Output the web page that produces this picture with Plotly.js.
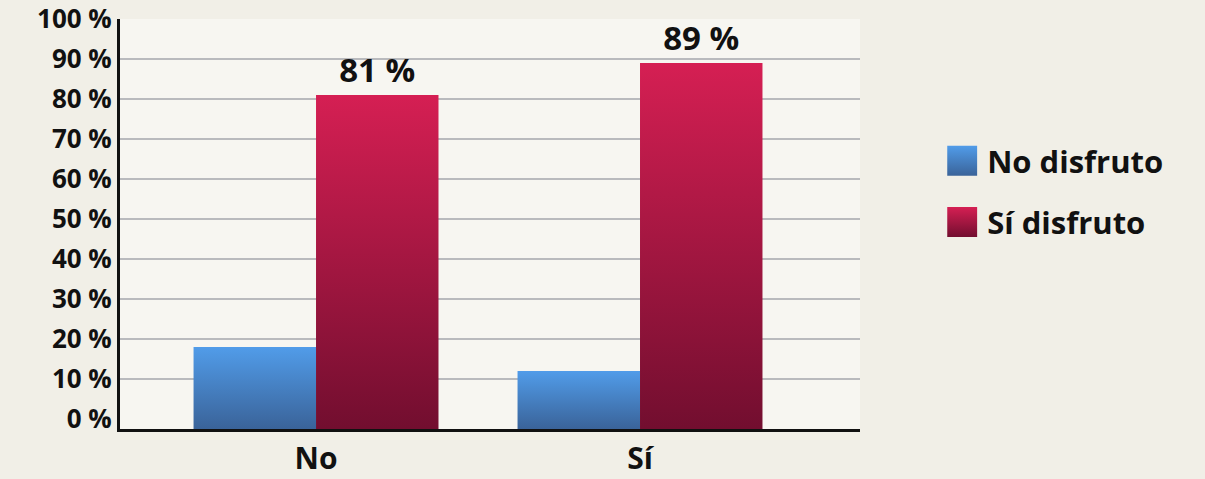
<!DOCTYPE html>
<html>
<head>
<meta charset="utf-8">
<script src="https://cdn.plot.ly/plotly-3.0.1.min.js"></script>
<style>
  html, body { margin: 0; padding: 0; background: #f1efe7; }
  #chart { width: 1205px; height: 479px; }
</style>
</head>
<body>
<div id="chart"></div>
<script>
// Answer categories on the x axis
const categories = ['No', 'Sí'];
// Series names
const seriesNames = ['No disfruto', 'Sí disfruto'];
// Percentages per series
const noDisfruto = [18, 12];
const siDisfruto = [81, 89];
// Y axis ticks
const tickValues = [0, 10, 20, 30, 40, 50, 60, 70, 80, 90, 100];

// The value axis starts a little below zero so the bars sit on the axis line
const AXIS_FLOOR = -2.5;
const FONT = 'Open Sans, Noto Sans, sans-serif';

const gradients = {
  blue: ['#519ce9', '#3a6399'],
  red: ['#d51f53', '#720e2f']
};

const traces = [
  {
    type: 'bar',
    name: seriesNames[0],
    x: categories,
    y: noDisfruto.map(v => v - AXIS_FLOOR),
    base: AXIS_FLOOR,
    marker: { color: gradients.blue[0], line: { width: 0 } },
    textposition: 'none',
    legendgroup: 'a',
    hoverinfo: 'skip'
  },
  {
    type: 'bar',
    name: seriesNames[1],
    x: categories,
    y: siDisfruto.map(v => v - AXIS_FLOOR),
    base: AXIS_FLOOR,
    text: siDisfruto.map(v => v + ' %'),
    textposition: 'outside',
    constraintext: 'none',
    cliponaxis: false,
    textfont: { family: FONT, size: 33, color: '#111', weight: 700 },
    marker: { color: gradients.red[0], line: { width: 0 } },
    legendgroup: 'b',
    hoverinfo: 'skip'
  }
];

const layout = {
  width: 1205,
  height: 479,
  margin: { l: 120, r: 345, t: 19, b: 50 },
  paper_bgcolor: '#f1efe7',
  plot_bgcolor: '#f7f6f1',
  font: { family: FONT, color: '#111' },
  barmode: 'group',
  bargap: 0.244,
  bargroupgap: 0,
  showlegend: true,
  legend: {
    x: 0.786, xref: 'container', xanchor: 'left',
    y: 0.6, yref: 'container', yanchor: 'middle',
    bgcolor: 'rgba(0,0,0,0)',
    tracegroupgap: 18,
    traceorder: 'grouped',
    font: { family: FONT, size: 31, color: '#111', weight: 700 }
  },
  xaxis: {
    type: 'category',
    categoryorder: 'array',
    categoryarray: categories,
    range: [-0.605, 1.679],
    showgrid: false,
    showline: true,
    linecolor: '#111',
    linewidth: 3,
    ticks: '',
    ticklabelstandoff: 1,
    tickfont: { family: FONT, size: 30, color: '#111', weight: 700 },
    fixedrange: true
  },
  yaxis: {
    range: [AXIS_FLOOR, 100],
    tickvals: tickValues,
    ticktext: tickValues.map(v => v + ' %'),
    ticklabeloverflow: 'allow',
    showline: true,
    linecolor: '#111',
    linewidth: 3,
    ticks: '',
    ticklabelstandoff: 0,
    gridcolor: '#b9babd',
    gridwidth: 2,
    zeroline: true,
    zerolinecolor: '#f7f6f1',
    zerolinewidth: 2,
    tickfont: { family: FONT, size: 26, color: '#111', weight: 700 },
    fixedrange: true
  }
};

// Vertical gradient fills for bars and legend swatches
function applyGradients(gd) {
  const svgNS = 'http://www.w3.org/2000/svg';
  const svg = gd.querySelector('svg.main-svg');
  let defs = svg.querySelector('defs');
  if (!defs) { defs = document.createElementNS(svgNS, 'defs'); svg.insertBefore(defs, svg.firstChild); }
  const ids = [];
  [gradients.blue, gradients.red].forEach((stops, i) => {
    const id = 'barGrad' + i;
    const lg = document.createElementNS(svgNS, 'linearGradient');
    lg.setAttribute('id', id);
    lg.setAttribute('x1', '0'); lg.setAttribute('y1', '0');
    lg.setAttribute('x2', '0'); lg.setAttribute('y2', '1');
    stops.forEach((c, j) => {
      const s = document.createElementNS(svgNS, 'stop');
      s.setAttribute('offset', j === 0 ? '0' : '1');
      s.setAttribute('stop-color', c);
      lg.appendChild(s);
    });
    defs.appendChild(lg);
    ids.push(id);
  });
  gd.querySelectorAll('.barlayer .trace.bars').forEach((tr, i) => {
    tr.querySelectorAll('.point path').forEach(p => { p.style.fill = 'url(#' + ids[i] + ')'; });
  });
  // Larger square swatches in the legend, set a little apart from the names
  gd.querySelectorAll('.legend .traces').forEach((tr, i) => {
    tr.querySelectorAll('.legendpoints path').forEach(p => {
      p.setAttribute('d', 'M10,15H-20V-15H10Z');
      p.style.fill = 'url(#' + ids[i] + ')';
      p.style.stroke = 'none';
    });
  });
}

Plotly.newPlot('chart', traces, layout, { displayModeBar: false, staticPlot: true })
  .then(applyGradients);
</script>
</body>
</html>
